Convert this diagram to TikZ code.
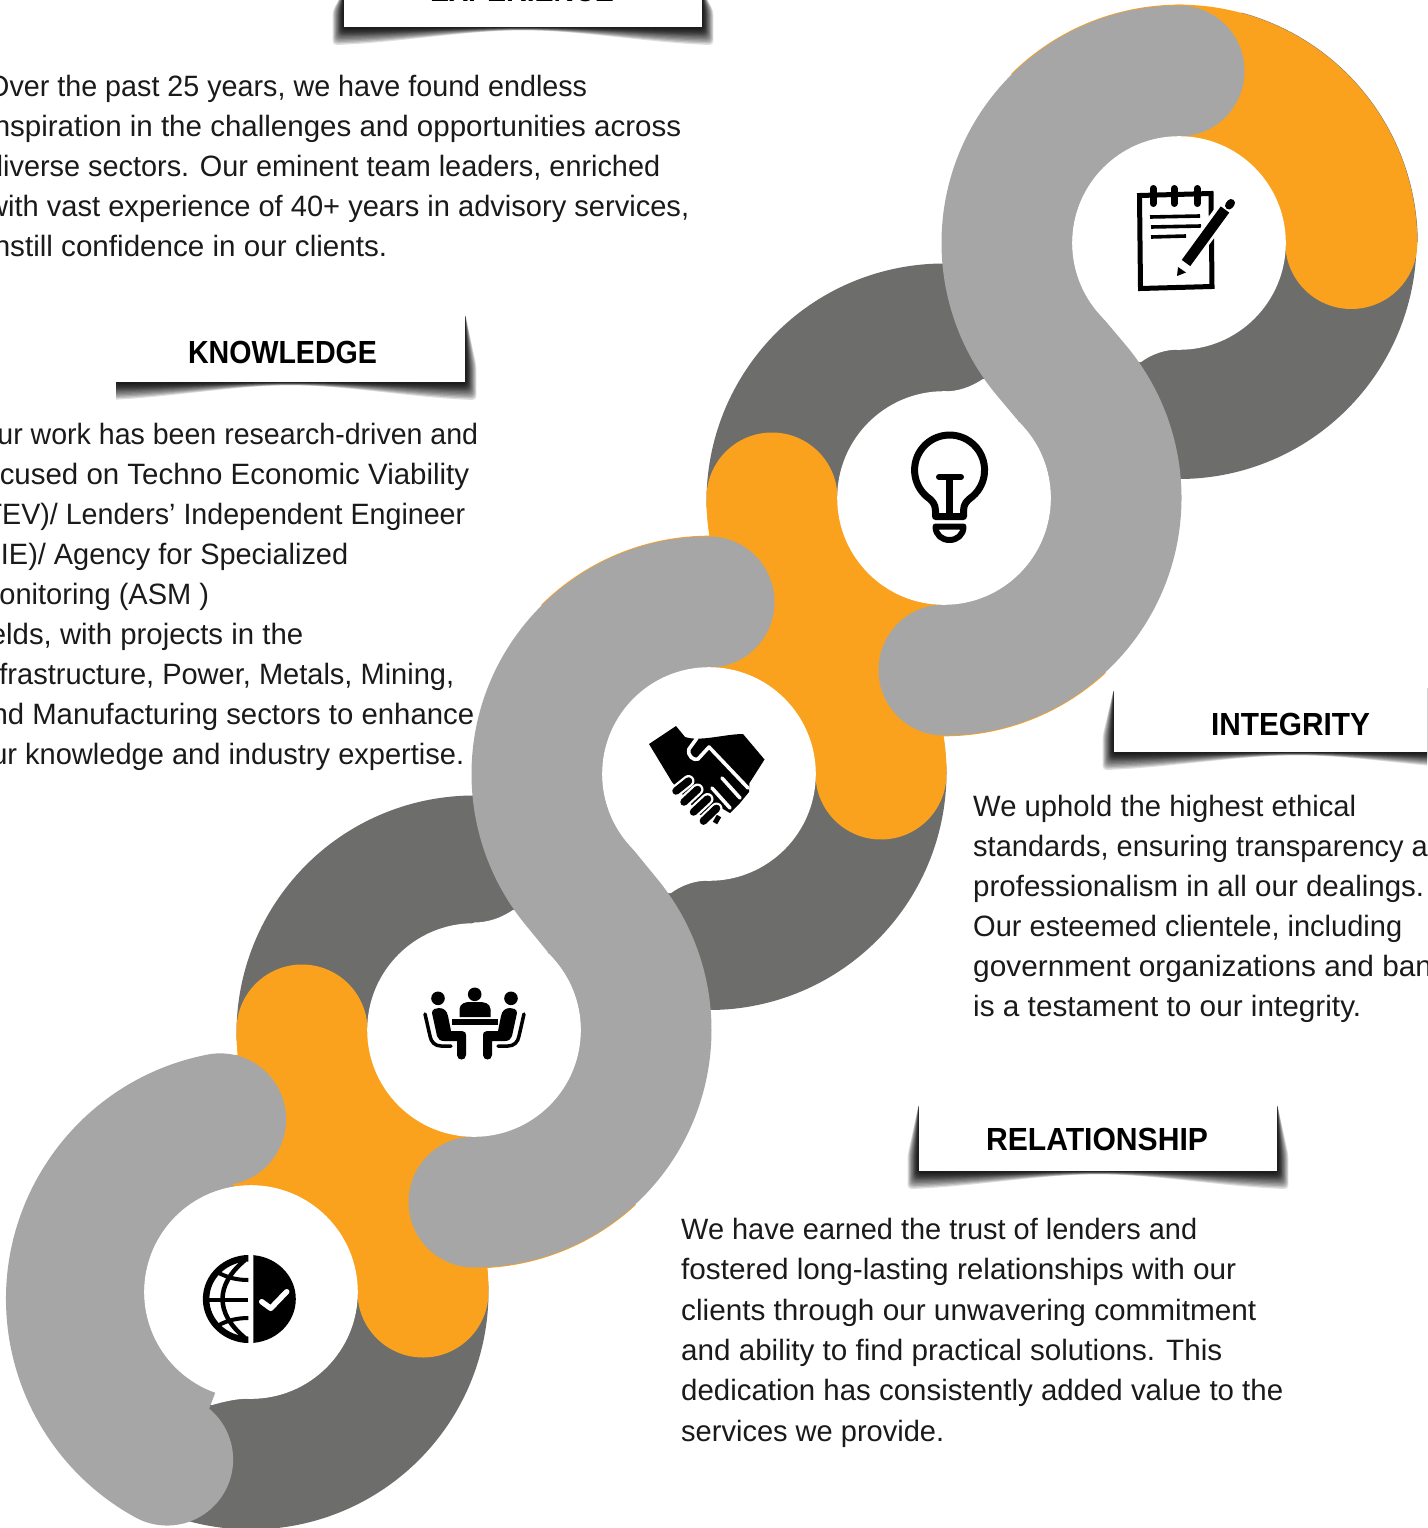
\documentclass[tikz,border=0pt]{standalone}
\usepackage{fontspec}
\usepackage{graphicx}
\setmainfont{Liberation Sans}
\usetikzlibrary{calc}
\definecolor{bandorange}{HTML}{FAA21E}
\definecolor{bandlight}{HTML}{A6A6A6}
\definecolor{banddark}{HTML}{6D6E6C}
\definecolor{inktext}{HTML}{1A1A1A}
\tikzset{
  band/.style={line width=131pt,line cap=round,line join=round},
  sector/.style={line width=131pt,line cap=butt},
  sliver/.style={line width=132pt,line cap=butt,draw=bandorange},
  bodytext/.style={inner sep=0pt,anchor=base west,align=left,text=inktext,font=\fontsize{29.4}{40}\selectfont},
  headtext/.style={inner sep=0pt,anchor=base,text=black,font=\fontsize{32}{36}\selectfont\bfseries},
  icon/.style={draw=black,line cap=round,line join=round},
}
\newcommand{\fitw}[2]{\resizebox{#1pt}{\height}{#2}}
\newcommand{\banner}[5]{%
  \begin{scope}
    \clip (#1,#4-12) rectangle (#3+30,#5+40);
    \foreach \f in {1.9,1.75,1.6,1.45,1.3,1.15,1.0,.9,.8,.7,.6,.5,.4,.3,.2}{
      \fill[black,opacity=.13,rounded corners=4pt] (#2,#4) -- (#2-6*\f,#5-16) -- (#2-6*\f,#5+9.5*\f)
        .. controls ({#2+.14*(#3-#2)},{#5+8.5*\f}) and ({#2+.34*(#3-#2)},{#5+1.8*\f}) .. ({.5*(#2+#3)},{#5+1.8*\f})
        .. controls ({#3-.34*(#3-#2)},{#5+1.8*\f}) and ({#3-.14*(#3-#2)},{#5+8.5*\f}) .. (#3+6*\f,#5+9.5*\f)
        -- (#3+6*\f,#5-16) -- (#3,#4) -- cycle;
    }
    \fill[white] (#2,#4-5) rectangle (#3,#5);
  \end{scope}}
\begin{document}
\begin{tikzpicture}[x=1pt,y=1pt,yscale=-1]
\useasboundingbox (0,0) rectangle (1427,1528);
\clip (0,0) rectangle (1427,1528);
\fill[white] (0,0) rectangle (1427,1528);
\coordinate (c1) at (1179,243);
\coordinate (c2) at (944,498);
\coordinate (c3) at (709,774);
\coordinate (c4) at (474,1030);
\coordinate (c5) at (251,1292);
\coordinate (c6) at (255,1299);
\coordinate (d1) at (1179,241.5);
\coordinate (d2) at (944,501);
\coordinate (d3) at (709,772.5);
\coordinate (d4) at (474,1033);
% dark layer
\draw[band,draw=banddark] (d1) ++(0:172pt) arc[start angle=0,end angle=125.4,radius=172pt]
  -- ($(d2)+(305.4:172pt)$) arc[start angle=305.4,end angle=180,radius=172pt];
\draw[band,draw=banddark] (d3) ++(0:172pt) arc[start angle=0,end angle=124.35,radius=172pt]
  -- ($(d4)+(304.35:172pt)$) arc[start angle=304.35,end angle=180,radius=172pt];
\draw[band,draw=banddark] (c5) ++(0:172pt) arc[start angle=0,end angle=110,radius=172pt];
\draw[sector,draw=banddark] (c1) ++(285:173.2pt) arc[start angle=285,end angle=360,radius=173.2pt];
% white wedges beside the crossings
\foreach \dx/\dy in {0/0,-470/531}{
  \fill[white] (1179+\dx,349.5+\dy) .. controls (1165+\dx,349.5+\dy) and (1152+\dx,354+\dy) .. (1141+\dx,362+\dy)
    -- (1128+\dx,362+\dy) -- (1104+\dx,322+\dy) -- (1179+\dx,243+\dy) -- cycle;
  \fill[white] (944+\dx,391.5+\dy) .. controls (958+\dx,391.5+\dy) and (971+\dx,387+\dy) .. (983+\dx,379+\dy)
    -- (996+\dx,379+\dy) -- (1020+\dx,419+\dy) -- (944+\dx,498+\dy) -- cycle;
}
\fill[white] (251,1398.5) .. controls (238,1398.5) and (226,1401) .. (212,1405) -- (180,1400) -- (200,1370) -- (251,1292) -- cycle;
% orange layer
\draw[sliver] (c1) ++(225:172.3pt) arc[start angle=225,end angle=272,radius=172.3pt];
\draw[sliver] (c3) ++(225:172.3pt) arc[start angle=225,end angle=272,radius=172.3pt];
\draw[sliver] (c2) ++(47:172.3pt) arc[start angle=47,end angle=95,radius=172.3pt];
\draw[sliver] (c4) ++(47:172.3pt) arc[start angle=47,end angle=95,radius=172.3pt];
\draw[band,draw=bandorange,line width=132pt] (c1) ++(270:172.3pt) arc[start angle=270,end angle=360,radius=172.3pt];
\draw[band,draw=bandorange] (c2) ++(180:172pt) arc[start angle=180,end angle=148.6,radius=172pt]
  -- ($(c3)+(328.6:172pt)$) arc[start angle=328.6,end angle=360,radius=172pt];
\draw[band,draw=bandorange] (c4) ++(180:172pt) arc[start angle=180,end angle=130.4,radius=172pt]
  -- ($(c5)+(310.4:172pt)$) arc[start angle=310.4,end angle=360,radius=172pt];
\draw[sector,draw=bandorange] (c2) ++(180:172pt) arc[start angle=180,end angle=90,radius=172pt];
\draw[sector,draw=bandorange] (c3) ++(270:172pt) arc[start angle=270,end angle=360,radius=172pt];
\draw[sector,draw=bandorange] (c4) ++(180:172pt) arc[start angle=180,end angle=90,radius=172pt];
\draw[sector,draw=bandorange] (c5) ++(255:172pt) arc[start angle=255,end angle=360,radius=172pt];
% light layer
\draw[band,draw=bandlight] (c1) ++(270:172pt) arc[start angle=270,end angle=140,radius=172pt]
  -- ($(c2)+(320:172pt)$) arc[start angle=320,end angle=450,radius=172pt];
\draw[band,draw=bandlight] (c3) ++(270:172pt) arc[start angle=270,end angle=140.7,radius=172pt]
  -- ($(c4)+(320.7:172pt)$) arc[start angle=320.7,end angle=450,radius=172pt];
\draw[band,draw=bandlight,line width=132pt] (c6) ++(259:183pt) arc[start angle=259,end angle=118.7,radius=183pt];
\draw[sector,draw=bandlight] (c5) ++(110:172pt) arc[start angle=110,end angle=260,radius=172pt];
% white discs
\foreach \c in {c1,c2,c3,c4,c5}{\fill[white] (\c) circle[radius=106.8pt];}
% notepad icon
\draw[icon,line width=5pt,line cap=butt,line join=miter] (1139.5,195.5) -- (1211,193.5) -- (1212,286.5) -- (1140.5,288.5) -- cycle;
\draw[icon,line width=7pt] (1153,188.5) -- (1153,203.5);
\draw[icon,line width=7pt] (1174,188.5) -- (1174,203.5);
\draw[icon,line width=7pt] (1197,188.5) -- (1197,203.5);
\draw[icon,line width=3.6pt,line cap=butt] (1150,217) -- (1200,216);
\draw[icon,line width=3.6pt,line cap=butt] (1151,227) -- (1201,226);
\draw[icon,line width=3.6pt,line cap=butt] (1151,237) -- (1186,236);
\draw[draw=white,line width=17pt,line cap=butt] (1183,266) -- (1230,202);
\draw[icon,line width=10.5pt,line cap=butt] (1186,263) -- (1225,209.5);
\draw[icon,line width=8pt] (1229,205.5) -- (1231,203);
\fill[black] (1178,267) -- (1177,276) -- (1186,272.5) -- cycle;
% bulb icon
\draw[icon,line width=7pt] (935.5,516.5) -- (935.5,511) .. controls (935.5,504) and (932,501) .. (929.5,498.7)
  arc[start angle=125,end angle=415,radius=35pt]
  .. controls (967,501) and (963.5,504) .. (963.5,511) -- (963.5,516.5) -- cycle;
\draw[icon,line width=7.5pt,line cap=butt] (949.5,477) -- (949.5,516);
\draw[icon,line width=6pt] (939,477) -- (961,477);
\draw[icon,line width=6pt] (935.5,526.5) -- (963.5,526.5) .. controls (963.5,535) and (957,540) .. (949.5,540)
  .. controls (942,540) and (935.5,535) .. (935.5,526.5) -- cycle;
% handshake icon
\fill[black] (649,744) -- (676,726) -- (685,737) .. controls (700,742) and (725,734) .. (743,734) -- (764.5,759.5) -- (749.5,783)
  -- (749,792) -- (740,803) -- (730,813) -- (720,818) -- (700,815) -- (672,782) -- cycle;
\draw[draw=white,line width=3.6pt,line cap=round,line join=round] (697,738) -- (689,749) .. controls (687,756) and (694,761) .. (698,759) -- (709,747) -- (748,788);
\draw[draw=white,line width=3.6pt,line cap=round] (722,778) -- (740,798);
\draw[draw=white,line width=3.6pt,line cap=round] (712,788) -- (730,808);
\foreach \xa/\ya/\xb/\yb in {688.5/781/676/791,697.5/789.5/684/802,707.5/799/693.5/812,716.5/808.5/703.5/821}{
  \draw[draw=white,line width=12pt,line cap=round] (\xa,\ya) -- (\xb,\yb);
  \draw[icon,line width=7.5pt] (\xa,\ya) -- (\xb,\yb);
}
\fill[white] (700,823) -- (716,805) -- (733,815) -- (725,830) -- cycle;
\draw[icon,line width=7.5pt] (716.5,808.5) -- (703.5,821);
\draw[icon,line width=5pt,line cap=butt] (719,816) -- (715,823);
% meeting icon
\fill[black] (474.7,994.3) circle[radius=6.8pt];
\fill[black] (438,998.3) circle[radius=6.8pt];
\fill[black] (511,998.3) circle[radius=6.8pt];
\fill[black] (459.5,1017) -- (459.5,1009) .. controls (460,1003) and (466,1002) .. (470,1002) -- (479,1002)
  .. controls (484,1002) and (490,1003) .. (490.5,1009) -- (490.5,1017) -- cycle;
\fill[black] (452.3,1019.3) rectangle (497.5,1025);
\foreach \s/\m in {1/0,-1/949}{
\begin{scope}[shift={(\m,0)},xscale=\s]
\fill[black] (432,1013) .. controls (432,1009) and (436,1008) .. (439,1008) .. controls (444,1008) and (447,1011) .. (448,1016)
  -- (451,1031) -- (462,1031) .. controls (465,1031) and (466,1033) .. (466,1035) -- (466,1055)
  .. controls (466,1061) and (457,1061) .. (457,1055) -- (457,1041) -- (444,1041) .. controls (440,1041) and (438,1039) .. (437,1036) -- cycle;
\draw[icon,line width=3.5pt] (425,1014) -- (430,1036) .. controls (431,1042) and (435,1046) .. (441,1046) -- (451,1046);
\end{scope}}
% globe icon
\begin{scope}
\clip (253.3,1250) rectangle (300,1350);
\fill[black] (249.3,1299) ellipse[x radius=46.5pt,y radius=44pt];
\end{scope}
\begin{scope}
\clip (200,1250) rectangle (248.3,1350);
\draw[draw=black,line width=6.5pt] (249.3,1299) ellipse[x radius=43.2pt,y radius=40.8pt];
\draw[draw=black,line width=4pt] (205,1299.7) -- (248.3,1299.7);
\draw[draw=black,line width=4pt] (218,1272.5) .. controls (228,1278) and (238,1280) .. (248.3,1280);
\draw[draw=black,line width=4pt] (218,1325.5) .. controls (228,1320) and (238,1318) .. (248.3,1318);
\draw[draw=black,line width=4.5pt] (245,1260) .. controls (215,1285) and (215,1313) .. (245,1338);
\end{scope}
\draw[draw=white,line width=5.5pt,line cap=round,line join=round] (261.7,1301.7) -- (270.7,1308.3) -- (286.7,1291.7);
% banners
\banner{320}{344}{702}{-10}{27}
\banner{116}{116}{465}{313}{382}
\banner{1095}{1114}{1480}{688}{752}
\banner{900}{919}{1277}{1103}{1171}
\node[headtext] (h1) at (522,2) {\fitw{184}{EXPERIENCE}};
\node[headtext] (h2) at (282.5,363) {\fitw{189}{KNOWLEDGE}};
\node[headtext] (h3) at (1290.5,735) {\fitw{159}{INTEGRITY}};
\node[headtext] (h4) at (1097,1150) {\fitw{222}{RELATIONSHIP}};
% texts
\node[bodytext] (t1) at (-13,256.4) {\fitw{600}{Over the past 25 years, we have found endless}\\
\fitw{694}{inspiration in the challenges and opportunities across}\\
\fitw{673}{diverse sectors. Our eminent team leaders, enriched}\\
\fitw{702}{with vast experience of 40+ years in advisory services,}\\
\fitw{400}{instill confidence in our clients.}};
\node[bodytext] (t2) at (-25,764.4) {\fitw{503}{Our work has been research-driven and}\\
\fitw{494}{focused on Techno Economic Viability}\\
\fitw{490}{(TEV)/ Lenders’ Independent Engineer}\\
\fitw{373}{(LIE)/ Agency for Specialized}\\
\fitw{234}{Monitoring (ASM )}\\
\fitw{328}{fields, with projects in the}\\
\fitw{479}{Infrastructure, Power, Metals, Mining,}\\
\fitw{499}{and Manufacturing sectors to enhance}\\
\fitw{489}{our knowledge and industry expertise.}};
\node[bodytext] (t3) at (973,1016.4) {\fitw{383}{We uphold the highest ethical}\\
\fitw{487}{standards, ensuring transparency and}\\
\fitw{451}{professionalism in all our dealings.}\\
\fitw{429}{Our esteemed clientele, including}\\
\fitw{497}{government organizations and banks,}\\
\fitw{388}{is a testament to our integrity.}};
\node[bodytext,font=\fontsize{29.4}{40.4}\selectfont] (t4) at (681,1441.2) {\fitw{516}{We have earned the trust of lenders and}\\
\fitw{555}{fostered long-lasting relationships with our}\\
\fitw{575}{clients through our unwavering commitment}\\
\fitw{541}{and ability to find practical solutions. This}\\
\fitw{602}{dedication has consistently added value to the}\\
\fitw{263}{services we provide.}};
\end{tikzpicture}
\end{document}
